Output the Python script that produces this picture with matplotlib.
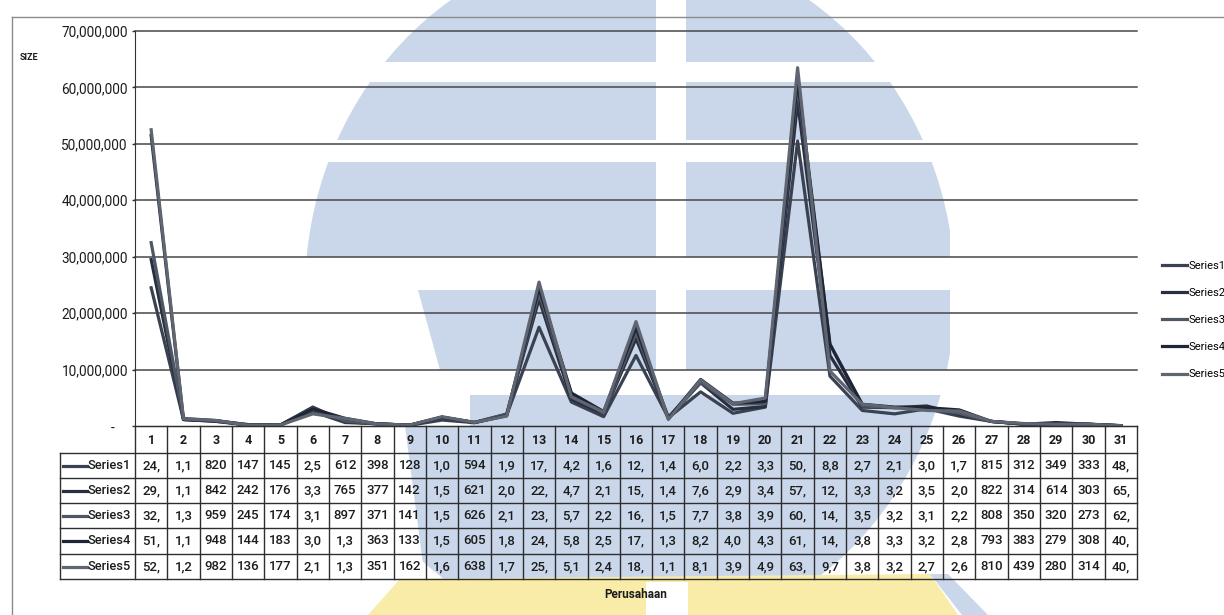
import matplotlib
matplotlib.use("Agg")
import matplotlib.pyplot as plt
from matplotlib import font_manager
from matplotlib.lines import Line2D
from matplotlib.patches import Rectangle, Polygon, Ellipse

W, H = 1224, 615

COMPANIES = list(range(1, 32))
SERIES_NAMES = ["Series1", "Series2", "Series3", "Series4", "Series5"]

# values (Excel cuts each cell to 3 characters)
SERIES1 = [24_500_000, 1_150_000, 820_500, 147_500, 145_500, 2_550_000, 612_500, 398_500,
           128_500, 1_050_000, 594_500, 1_950_000, 17_500_000, 4_250_000, 1_650_000,
           12_500_000, 1_450_000, 6_050_000, 2_250_000, 3_350_000, 50_500_000, 8_850_000,
           2_750_000, 2_150_000, 3_050_000, 1_750_000, 815_500, 312_500, 349_500, 333_500, 48_500]
SERIES2 = [29_500_000, 1_150_000, 842_500, 242_500, 176_500, 3_350_000, 765_500, 377_500,
           142_500, 1_550_000, 621_500, 2_050_000, 22_500_000, 4_750_000, 2_150_000,
           15_500_000, 1_450_000, 7_650_000, 2_950_000, 3_450_000, 57_500_000, 12_500_000,
           3_350_000, 3_250_000, 3_550_000, 2_050_000, 822_500, 314_500, 614_500, 303_500, 65_500]
SERIES3 = [32_500_000, 1_350_000, 959_500, 245_500, 174_500, 3_150_000, 897_500, 371_500,
           141_500, 1_550_000, 626_500, 2_150_000, 23_500_000, 5_750_000, 2_250_000,
           16_500_000, 1_550_000, 7_750_000, 3_850_000, 3_950_000, 60_500_000, 14_500_000,
           3_550_000, 3_250_000, 3_150_000, 2_250_000, 808_500, 350_500, 320_500, 273_500, 62_500]
SERIES4 = [51_500_000, 1_150_000, 948_500, 144_500, 183_500, 3_050_000, 1_350_000, 363_500,
           133_500, 1_550_000, 605_500, 1_850_000, 24_500_000, 5_850_000, 2_550_000,
           17_500_000, 1_350_000, 8_250_000, 4_050_000, 4_350_000, 61_500_000, 14_500_000,
           3_850_000, 3_350_000, 3_250_000, 2_850_000, 793_500, 383_500, 279_500, 308_500, 40_500]
SERIES5 = [52_500_000, 1_250_000, 982_500, 136_500, 177_500, 2_150_000, 1_350_000, 351_500,
           162_500, 1_650_000, 638_500, 1_750_000, 25_500_000, 5_150_000, 2_450_000,
           18_500_000, 1_150_000, 8_150_000, 3_950_000, 4_950_000, 63_500_000, 9_750_000,
           3_850_000, 3_250_000, 2_750_000, 2_650_000, 810_500, 439_500, 280_500, 314_500, 40_500]
SERIES = [SERIES1, SERIES2, SERIES3, SERIES4, SERIES5]

Y_TICKS = [0, 10_000_000, 20_000_000, 30_000_000, 40_000_000, 50_000_000, 60_000_000, 70_000_000]
COLORS = ["#3a4252", "#283040", "#4f5664", "#1e2536", "#5f6571"]
TXT = "#1c1c1c"
WM_BLUE = "#cad7ea"
WM_YELLOW = "#f9eca8"

installed = {f.name for f in font_manager.fontManager.ttflist}
FONT = [f for f in ["Roboto", "DejaVu Sans"] if f in installed]


def fx(px):
    return px / W


def fy(py):
    return 1 - py / H


def cell_text(v):
    return f"{v:,}"[:3]


fig = plt.figure(figsize=(W / 100, H / 100), dpi=100)
fig.patch.set_facecolor("white")

# ── faint scanned logo behind the chart (rough shape, pixel space) ───────────
bg = fig.add_axes([0, 0, 1, 1], zorder=-5)
bg.set_xlim(0, W)
bg.set_ylim(H, 0)
bg.axis("off")
globe = Ellipse((630, 292), 650, 700, transform=bg.transData)
# (top, bottom, left limit at top, left limit at bottom)
WM_BANDS = [(0, 62, 0, 0), (82, 140, 0, 0), (162, 257, 0, 0),
            (290, 370, 418, 440), (395, 426, 470, 470), (426, 580, 405, 425)]
for y0, y1, l0, l1 in WM_BANDS:
    p = Polygon([(l0, y0), (950, y0), (950, y1), (l1, y1)], closed=True,
                color=WM_BLUE, lw=0)
    bg.add_patch(p)
    p.set_clip_path(globe)
bg.add_patch(Rectangle((656, 0), 30, 375, color="white", lw=0))
bg.add_patch(Polygon([(368, 615), (400, 579), (930, 574), (958, 615)], closed=True,
                     color=WM_YELLOW, lw=0))
bg.add_patch(Polygon([(930, 574), (948, 574), (988, 615), (962, 615)], closed=True,
                     color=WM_BLUE, lw=0))
bg.add_patch(Rectangle((646, 582), 42, 33, color="white", lw=0))

# ── plot area ────────────────────────────────────────────────────────────────
PL, PR, PT, PB = 135, 1137, 31, 426
ax = fig.add_axes([fx(PL), fy(PB), (PR - PL) / W, (PB - PT) / H])
ax.patch.set_alpha(0)
ax.set_xlim(0.5, 31.5)
ax.set_ylim(0, 70_000_000)
for y in Y_TICKS[1:]:
    ax.axhline(y, color="#474747", lw=1.1, clip_on=False, zorder=1)
for s, c in zip(SERIES, COLORS):
    ax.plot(COMPANIES, s, color=c, lw=2.3, zorder=3)

for side in ["top", "right"]:
    ax.spines[side].set_visible(False)
ax.spines["left"].set_color("#333333")
ax.spines["bottom"].set_color("#333333")
ax.set_xticks([])
ax.set_yticks(Y_TICKS)
ax.set_yticklabels(["-    "] + [f"{v:,}" for v in Y_TICKS[1:]])
ax.tick_params(axis="y", length=2.2, width=1, color="#333333", pad=2.9, labelsize=9.8,
               labelcolor=TXT)
for lab in ax.get_yticklabels():
    lab.set_family(FONT)

fig.text(fx(20), fy(57), "SIZE", fontsize=6.5, fontweight="bold", color=TXT,
         va="center", ha="left", family=FONT)

# ── data table ───────────────────────────────────────────────────────────────
TL, TB = 60, 579
colw = (PR - PL) / len(COMPANIES)
x0 = 0.5 - (PL - TL) / colw
ROW_EDGES = [0, 27, 52, 77, 102, 128, 153]
tax = fig.add_axes([fx(TL), fy(TB), (PR - TL) / W, (TB - PB) / H])
tax.patch.set_alpha(0)
tax.set_xlim(x0, 31.5)
tax.set_ylim(ROW_EDGES[-1], 0)
tax.axis("off")

grid_kw = dict(color="#2e2e2e", lw=1.0, clip_on=False)
for k in range(len(COMPANIES) + 1):
    tax.plot([k + 0.5, k + 0.5], [0, ROW_EDGES[-1]], **grid_kw)
tax.plot([x0, x0], [ROW_EDGES[1], ROW_EDGES[-1]], **grid_kw)
tax.plot([0.5, 31.5], [0, 0], **grid_kw)
for e in ROW_EDGES[1:]:
    tax.plot([x0, 31.5], [e, e], **grid_kw)

for c in COMPANIES:
    tax.text(c, (ROW_EDGES[0] + ROW_EDGES[1]) / 2 + 1, str(c), ha="center", va="center",
             fontsize=9, fontweight="bold", color=TXT, family=FONT)

for i, (name, s, col) in enumerate(zip(SERIES_NAMES, SERIES, COLORS)):
    ymid = (ROW_EDGES[i + 1] + ROW_EDGES[i + 2]) / 2
    tax.plot([x0 + 3 / colw, x0 + 27 / colw], [ymid, ymid], color=col, lw=2.3, clip_on=False)
    tax.text(x0 + 28 / colw, ymid, name, ha="left", va="center", fontsize=9.3,
             fontweight="medium", color=TXT, family=FONT)
    for c, v in zip(COMPANIES, s):
        tax.text(c, ymid, cell_text(v), ha="center", va="center", fontsize=9.5,
                 fontweight="medium", color=TXT, family=FONT)

fig.text(fx((PL + PR) / 2), fy(595), "Perusahaan", ha="center", va="center",
         fontsize=8.5, fontweight="bold", color=TXT, family=FONT)

# ── legend on the right ──────────────────────────────────────────────────────
handles = [Line2D([], [], color=c, lw=2.3) for c in COLORS]
fig.legend(handles, SERIES_NAMES, loc="upper left", bbox_to_anchor=(fx(1156), fy(255)),
           frameon=False, handlelength=2.3, handletextpad=0.15,
           labelspacing=1.55, borderpad=0, prop={"family": FONT, "size": 8})

# chart area border (top and left edges visible in the scan)
fig.add_artist(Line2D([fx(12), 1], [fy(17), fy(17)], color="#8a8a8a", lw=1.0,
                      transform=fig.transFigure))
fig.add_artist(Line2D([fx(12), fx(12)], [fy(17), 0], color="#8a8a8a", lw=1.0,
                      transform=fig.transFigure))

fig.savefig("out.png", dpi=100, facecolor="white")
